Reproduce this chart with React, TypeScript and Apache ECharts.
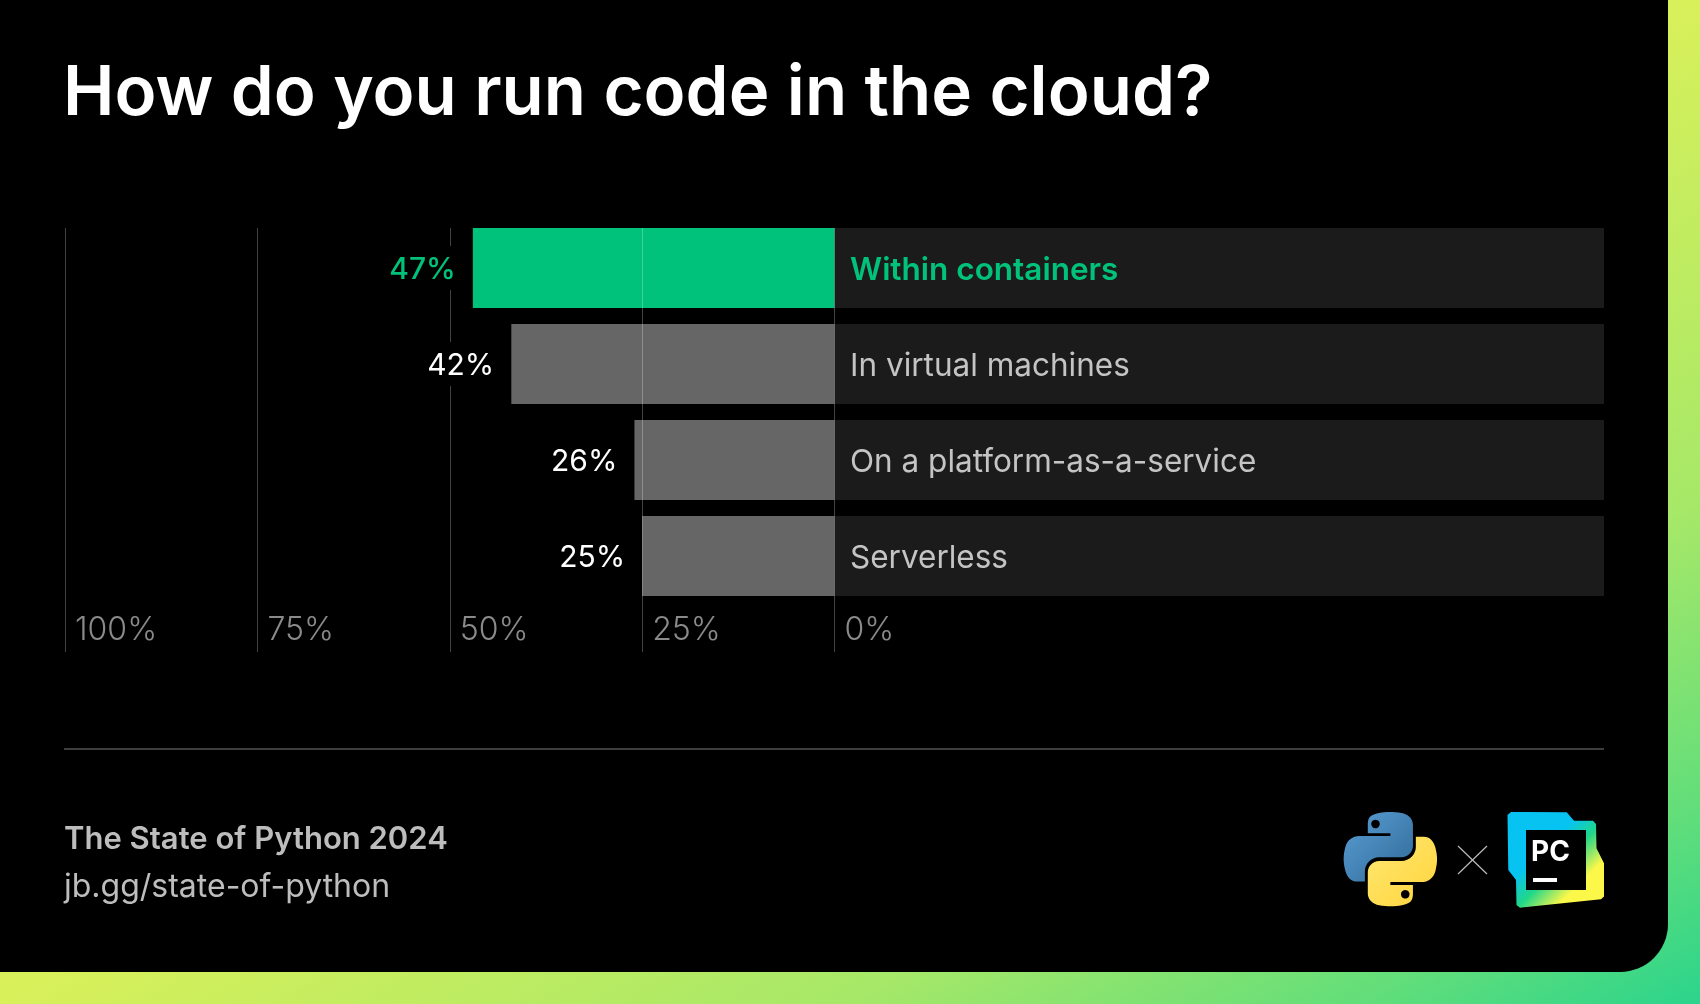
import React, { useEffect, useRef } from "react";
import * as echarts from "echarts";

const categories = ["Within containers", "In virtual machines", "On a platform-as-a-service", "Serverless"];
const values = [47, 42, 26, 25];
const trackExtent = 100;
const axisMin = 0;
const axisMax = 100;
const axisInterval = 25;

const GREEN = "#00c27a";
const GRAY_BAR = "#666666";
const TRACK = "#1b1b1b";
const FONT = "Inter, 'Noto Sans', sans-serif";

const PY_PATH =
  "M54.9,0 C50.3,0 46,0.4 42.2,1.1 C31,3.1 29,7.2 29,14.8 L29,24.8 L55.4,24.8 L55.4,28.2 L19.1,28.2 C11.4,28.2 4.7,32.8 2.6,41.5 C0.2,51.4 0.1,57.6 2.6,68 C4.5,75.7 8.9,81.3 16.6,81.3 L25.6,81.3 L25.6,69.4 C25.6,60.7 33.1,53 42.2,53 L68.5,53 C75.9,53 81.8,46.9 81.8,39.6 L81.8,14.8 C81.8,7.6 75.8,2.3 68.5,1.1 C63.9,0.3 59.1,0 54.9,0 Z";

let registered = false;
function registerShapes() {
  if (registered) return;
  echarts.graphic.registerShape("pyhalf", echarts.graphic.extendPath(PY_PATH, {}));
  registered = true;
}

export default function App() {
  const ref = useRef<HTMLDivElement>(null);
  useEffect(() => {
    if (!ref.current) return;
    registerShapes();
    const chart = echarts.init(ref.current, null, { renderer: "svg" });
    const LG = echarts.graphic.LinearGradient;
    const pyScale = 0.855;

    const option: any = {
      animation: false,
      backgroundColor: "transparent",
      graphic: [
        {
          type: "rect",
          z: -20,
          silent: true,
          shape: { x: 0, y: 0, width: 1700, height: 1004 },
          style: {
            fill: new LG(0, 0, 1, 1, [
              { offset: 0, color: "#f7f44e" },
              { offset: 0.5, color: "#d8f05a" },
              { offset: 0.75, color: "#a6e868" },
              { offset: 0.9, color: "#62de7a" },
              { offset: 1, color: "#2bd48c" },
            ]),
          },
        },
        {
          type: "rect",
          z: -19,
          silent: true,
          shape: { x: 0, y: 0, width: 1668, height: 972, r: [0, 0, 48, 0] },
          style: { fill: "#000000" },
        },
        {
          type: "text",
          z: 5,
          x: 63,
          y: 90,
          style: {
            text: "How do you run code in the cloud?",
            font: `600 69px ${FONT}`,
            fill: "#ffffff",
            verticalAlign: "middle",
          },
        },
        {
          type: "line",
          z: 5,
          shape: { x1: 64, y1: 749, x2: 1604, y2: 749 },
          style: { stroke: "#3d3d3d", lineWidth: 2 },
        },
        {
          type: "text",
          z: 5,
          x: 64,
          y: 837,
          style: {
            text: "The State of Python 2024",
            font: `600 31px ${FONT}`,
            fill: "#bdbdbd",
            verticalAlign: "middle",
          },
        },
        {
          type: "text",
          z: 5,
          x: 64,
          y: 885,
          style: {
            text: "jb.gg/state-of-python",
            font: `400 32px ${FONT}`,
            fill: "#bdbdbd",
            verticalAlign: "middle",
          },
        },
        {
          type: "group",
          x: 1343,
          y: 812,
          scaleX: pyScale,
          scaleY: pyScale,
          z: 5,
          children: [
            {
              type: "pyhalf",
              style: {
                fill: new LG(0, 0, 1, 1, [
                  { offset: 0, color: "#5a9fd4" },
                  { offset: 1, color: "#306998" },
                ]),
              },
            },
            {
              type: "pyhalf",
              rotation: Math.PI,
              originX: 55.4,
              originY: 55.1,
              style: {
                fill: new LG(0, 0, 1, 1, [
                  { offset: 0, color: "#ffd43b" },
                  { offset: 1, color: "#ffe873" },
                ]),
              },
            },
            { type: "circle", shape: { cx: 38, cy: 14, r: 5 }, style: { fill: "#000" } },
            { type: "circle", shape: { cx: 72.8, cy: 96.2, r: 5 }, style: { fill: "#000" } },
          ],
        },
        {
          type: "line",
          z: 5,
          shape: { x1: 1458, y1: 846, x2: 1487, y2: 874 },
          style: { stroke: "#bbbbbb", lineWidth: 1.2 },
        },
        {
          type: "line",
          z: 5,
          shape: { x1: 1458, y1: 874, x2: 1487, y2: 846 },
          style: { stroke: "#bbbbbb", lineWidth: 1.2 },
        },
        {
          type: "polygon",
          z: 5,
          shape: {
            points: [
              [1511, 812],
              [1566.7, 812.3],
              [1574, 820.7],
              [1593, 820.7],
              [1596, 824],
              [1596.5, 848.3],
              [1604, 863.3],
              [1604, 896.5],
              [1601, 899.3],
              [1520, 907.7],
              [1516.5, 905],
              [1516, 880],
              [1508.3, 870],
              [1507.5, 815],
            ],
          },
          style: {
            fill: new LG(0, 0, 1, 1, [
              { offset: 0, color: "#07c3f2" },
              { offset: 0.38, color: "#07c3f2" },
              { offset: 0.55, color: "#21d789" },
              { offset: 0.75, color: "#fcf84a" },
              { offset: 1, color: "#fcf84a" },
            ]),
          },
        },
        {
          type: "rect",
          z: 6,
          shape: { x: 1526, y: 830, width: 60, height: 60 },
          style: { fill: "#000" },
        },
        {
          type: "text",
          z: 7,
          x: 1531,
          y: 851,
          style: {
            text: "PC",
            font: `700 28px ${FONT}`,
            fill: "#ffffff",
            verticalAlign: "middle",
          },
        },
        {
          type: "rect",
          z: 7,
          shape: { x: 1533, y: 878, width: 24, height: 4 },
          style: { fill: "#ffffff" },
        },
      ],
      grid: [
        { left: 65, right: 96, top: 220, height: 384 },
        { left: 65, width: 769.5, top: 228, height: 424 },
      ],
      xAxis: [
        { gridIndex: 0, type: "value", min: -trackExtent, max: axisMax, inverse: true, show: false },
        {
          gridIndex: 1,
          type: "value",
          min: axisMin,
          max: axisMax,
          interval: axisInterval,
          inverse: true,
          z: 3,
          axisLine: { show: false },
          axisTick: { show: false },
          splitLine: { show: true, lineStyle: { color: "rgba(255,255,255,0.26)", width: 1 } },
          axisLabel: {
            inside: true,
            formatter: "{value}%",
            align: "left",
            padding: [0, 0, 0, 10],
            margin: 24,
            verticalAlign: "middle",
            color: "#8a8a8a",
            fontSize: 32,
            fontFamily: FONT,
            fontWeight: 300,
            showMinLabel: true,
            showMaxLabel: true,
          },
        },
      ],
      yAxis: [
        {
          gridIndex: 0,
          type: "category",
          data: categories,
          inverse: true,
          z: 10,
          axisLine: { show: false },
          axisTick: { show: false },
          splitLine: { show: false },
          axisLabel: {
            inside: true,
            margin: 785,
            formatter: (v: string, i: number) => (i === 0 ? `{a|${v}}` : `{b|${v}}`),
            rich: {
              a: { color: GREEN, fontSize: 31.5, fontFamily: FONT, fontWeight: 600 },
              b: { color: "#c4c4c4", fontSize: 31.5, fontFamily: FONT, fontWeight: 400 },
            },
          },
        },
        { gridIndex: 1, type: "value", show: false, splitLine: { show: false } },
      ],
      series: [
        {
          name: "track",
          type: "bar",
          xAxisIndex: 0,
          yAxisIndex: 0,
          data: categories.map(() => -trackExtent),
          barWidth: 80,
          barGap: "-100%",
          silent: true,
          z: 1,
          itemStyle: { color: TRACK },
        },
        {
          name: "share",
          type: "bar",
          xAxisIndex: 0,
          yAxisIndex: 0,
          data: values.map((v, i) => ({ value: v, itemStyle: { color: i === 0 ? GREEN : GRAY_BAR } })),
          barWidth: 80,
          barGap: "-100%",
          z: 2,
        },
        {
          name: "labels",
          type: "bar",
          xAxisIndex: 0,
          yAxisIndex: 0,
          data: values.map((v, i) => ({
            value: v,
            label: { color: i === 0 ? GREEN : "#ffffff", fontWeight: i === 0 ? 500 : 400 },
          })),
          barWidth: 80,
          barGap: "-100%",
          silent: true,
          z: 10,
          itemStyle: { color: "rgba(0,0,0,0)" },
          label: {
            show: true,
            position: "left",
            distance: 11,
            formatter: "{c}%",
            fontSize: 30,
            fontFamily: FONT,
            fontWeight: 400,
            backgroundColor: "#000000",
            padding: [7, 6, 7, 6],
          },
        },
      ],
    };
    chart.setOption(option);
    return () => chart.dispose();
  }, []);
  return (
    <div
      ref={ref}
      style={{ position: "fixed", left: 0, top: 0, width: 1700, height: 1004 }}
    />
  );
}
